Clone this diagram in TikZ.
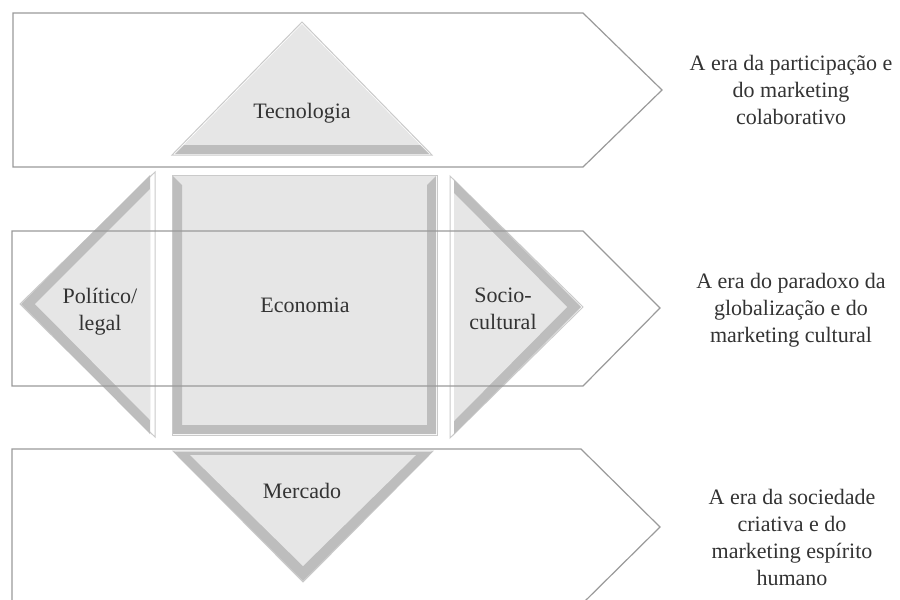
\documentclass[tikz,border=0pt]{standalone}
\usepackage{fontspec}
\setmainfont{Liberation Serif}
\usetikzlibrary{calc}

\definecolor{facegray}{HTML}{E6E6E6}
\definecolor{bevelgray}{HTML}{BDBDBD}
\definecolor{rimgray}{HTML}{CACACA}
\definecolor{eraline}{HTML}{9A9A9A}
\definecolor{inkgray}{HTML}{333333}

\begin{document}
\begin{tikzpicture}[x=0.5pt, y=-0.5pt,
  rim/.style={draw=rimgray, line width=0.5pt, fill=white},
  face/.style={fill=facegray},
  bevel/.style={fill=bevelgray},
  era/.style={draw=eraline, line width=0.6pt},
  label/.style={text=inkgray, align=center, font=\fontsize{11}{13.5}\selectfont}]
\clip (0,0) rectangle (900,600);
\fill[white] (0,0) rectangle (900,600);

% Tecnologia
\filldraw[rim] (172,155) -- (302,22) -- (432,155) -- cycle;
\fill[face] (175,154) -- (302,24) -- (429,154) -- cycle;
\fill[bevel] (175,154) -- (429,154) -- (420,145) -- (184,145) -- cycle;

% Economia
\filldraw[rim] (172,175) rectangle (437,435);
\fill[face] (173,176) rectangle (436,434);
\fill[bevel] (173,176) -- (182,185) -- (182,425) -- (427,425) -- (427,185)
  -- (436,176) -- (436,434) -- (173,434) -- cycle;

% Politico/legal
\filldraw[rim] (20,304) -- (155,172) -- (155,437) -- cycle;
\fill[bevel] (21,304) -- (150,175) -- (150,434) -- cycle;
\fill[face] (35,304) -- (150,189) -- (150,420) -- cycle;

% Socio-cultural
\filldraw[rim] (450,176) -- (583,307) -- (450,438) -- cycle;
\fill[bevel] (454,180) -- (581,307) -- (454,434) -- cycle;
\fill[face] (454,193) -- (567,307) -- (454,421) -- cycle;

% Mercado
\filldraw[rim] (173,451) -- (433,451) -- (303,582) -- cycle;
\fill[bevel] (174,452) -- (432,452) -- (303,581) -- cycle;
\fill[face] (190,455) -- (416,455) -- (303,566) -- cycle;

% the three eras
\draw[era] (13,13) -- (583,13) -- (662,90) -- (583,167) -- (13,167) -- cycle;
\draw[era] (12,231) -- (583,231) -- (660,308) -- (583,386) -- (12,386) -- cycle;
\draw[era] (12,449) -- (581,449) -- (660,527) -- (581,605) -- (12,605) -- cycle;

\node[label] (tec) at (302,113) {Tecnologia};
\node[label] (pol) at (100,312) {Político/\\legal};
\node[label] (eco) at (305,305) {Economia};
\node[label] (soc) at (503,309) {Socio-\\cultural};
\node[label] (mer) at (302,491) {Mercado};

\node[label] (era1) at (791,90) {A era da participação e\\do marketing\\colaborativo};
\node[label] (era2) at (791,310) {A era do paradoxo da\\globalização e do\\marketing cultural};
\node[label] (era3) at (792,537) {A era da sociedade\\criativa e do\\marketing espírito\\humano};
\end{tikzpicture}
\end{document}
